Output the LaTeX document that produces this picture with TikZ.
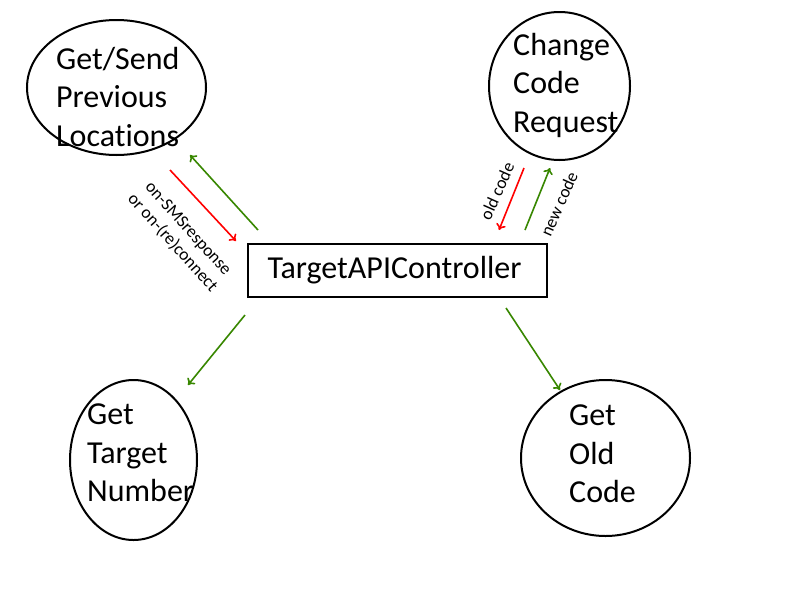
\documentclass[tikz,border=0pt]{standalone}
\usepackage{fontspec}
\setmainfont{Carlito}[Ligatures=NoCommon]
\usetikzlibrary{shapes.geometric,arrows.meta}
\definecolor{ogreen}{RGB}{56,135,0}
\definecolor{ored}{RGB}{255,0,0}
\tikzset{
  ell/.style={draw,ellipse,line width=2pt,inner sep=0pt},
  big/.style={font=\fontsize{32}{38.5}\selectfont,align=left,anchor=north west,inner sep=0pt},
  lbl/.style={font=\fontsize{17.5}{21}\selectfont,inner sep=0pt,align=center},
  garr/.style={draw=ogreen,line width=1.6pt,-{To[length=6pt,width=10pt]}},
  rarr/.style={draw=ored,line width=1.6pt,-{To[length=6pt,width=10pt]}},
}
\begin{document}
\begin{tikzpicture}[x=1pt,y=-1pt]
\useasboundingbox[fill=white] (0,0) rectangle (800,600);
% ellipses
\node[ell,minimum width=179pt,minimum height=135pt] (loc) at (116.5,87.5) {};
\node[ell,minimum width=141pt,minimum height=148pt] (chg) at (559.5,86) {};
\node[ell,minimum width=127pt,minimum height=160pt] (tgt) at (133.5,460) {};
\node[ell,minimum width=169pt,minimum height=156pt] (old) at (605.5,458) {};
\node[draw,line width=2pt,minimum width=299pt,minimum height=53pt,inner sep=0pt] (ctl) at (397.5,270.5) {};
% texts
\node[big] (loct) at (56,47) {Get/Send\\Previous\\Locations};
\node[big] (chgt) at (513,33) {Change\\Code\\Request};
\node[big] (tgtt) at (87,404) {Get\\Target\\Number};
\node[big] (oldt) at (569,405) {Get\\Old\\Code};
\node[font=\fontsize{32}{38}\selectfont,inner sep=0pt] (ctlt) at (394.5,270) {TargetAPIController};
% arrow endpoints
\coordinate (g1s) at (258,230); \coordinate (g1e) at (190,155);
\coordinate (r1s) at (170,170); \coordinate (r1e) at (236,241);
\coordinate (r2s) at (524,168); \coordinate (r2e) at (499,230);
\coordinate (g2s) at (525,230); \coordinate (g2e) at (550,168);
\coordinate (g3s) at (245,315); \coordinate (g3e) at (188,385);
\coordinate (g4s) at (506,308); \coordinate (g4e) at (560,390);
\draw[garr] (g1s) -- (g1e);
\draw[rarr] (r1s) -- (r1e);
\draw[rarr] (r2s) -- (r2e);
\draw[garr] (g2s) -- (g2e);
\draw[garr] (g3s) -- (g3e);
\draw[garr] (g4s) -- (g4e);
% labels
\node[lbl,rotate=-48] (l1) at (180,236) {on-SMSresponse\\or on-(re)connect};
\node[lbl,rotate=66] (l2) at (497,191) {old code};
\node[lbl,rotate=66] (l3) at (559,204) {new code};
\end{tikzpicture}
\end{document}
